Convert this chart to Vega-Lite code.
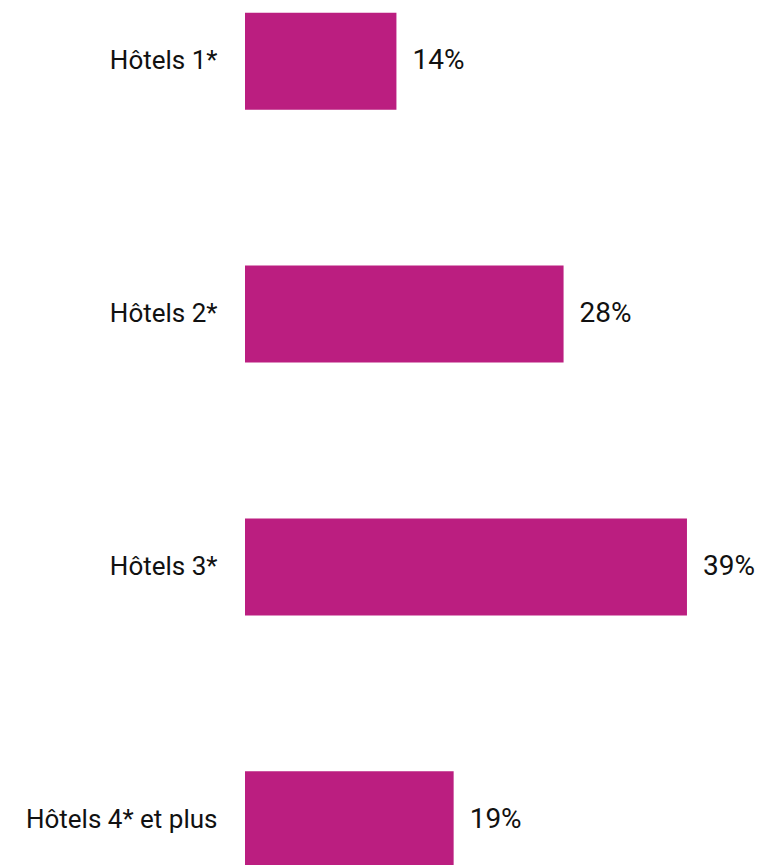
{
  "$schema": "https://vega.github.io/schema/vega-lite/v6.json",
  "width": 516,
  "height": 881,
  "autosize": {"type": "none"},
  "padding": {"left": 245, "top": 0, "right": 3, "bottom": 0},
  "background": "white",
  "config": {"view": {"stroke": null}},
  "data": {
    "values": [
      {"category": "Hôtels 1*", "value": 13.5, "label": "14%"},
      {"category": "Hôtels 2*", "value": 28.4, "label": "28%"},
      {"category": "Hôtels 3*", "value": 39.4, "label": "39%"},
      {"category": "Hôtels 4* et plus", "value": 18.6, "label": "19%"}
    ]
  },
  "encoding": {
    "y": {
      "field": "category",
      "type": "nominal",
      "sort": null,
      "scale": {"paddingInner": 0.616, "paddingOuter": 0.05},
      "axis": {
        "title": null,
        "domain": false,
        "ticks": false,
        "labelFontSize": 26,
        "labelFont": "Roboto",
        "labelColor": "#111111",
        "labelPadding": 28,
        "labelLimit": 400
      }
    },
    "x": {
      "field": "value",
      "type": "quantitative",
      "scale": {"domain": [0, 46], "nice": false},
      "axis": null
    }
  },
  "layer": [
    {"mark": {"type": "bar", "color": "#BB1E80"}},
    {
      "mark": {"type": "text", "align": "left", "baseline": "middle", "dx": 16, "fontSize": 28, "font": "Roboto", "color": "#111111"},
      "encoding": {"text": {"field": "label"}}
    }
  ]
}
